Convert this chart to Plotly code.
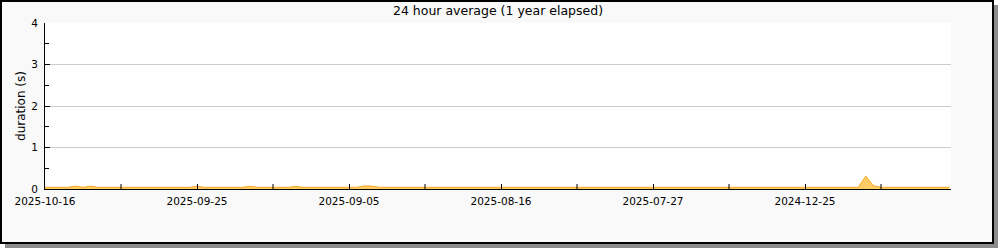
import plotly.graph_objects as go

# Data: daily 24h average durations (s), index 0 = most recent day
days = list(range(120))
base = 0.04
durations = [base] * 120
bumps = {4: 0.07, 6: 0.07, 20: 0.065, 27: 0.065, 33: 0.065, 42: 0.075, 43: 0.07,
         108: 0.31, 109: 0.08}
for d, v in bumps.items():
    durations[d] = v

tick_positions = [0, 20, 40, 60, 80, 100]
tick_labels = ["2025-10-16", "2025-09-25", "2025-09-05", "2025-08-16", "2025-07-27", "2024-12-25"]
minor_positions = list(range(10, 120, 20))

# pixel geometry helpers
L, R, T, B = 45, 951, 23, 189
W, H = 1000, 250
def px(x):
    return (x - L) / (R - L)
def py(y):
    return (B - y) / (B - T)

fig = go.Figure()
fig.add_trace(go.Scatter(
    x=days, y=durations, mode="lines", fill="tozeroy",
    line=dict(color="#f5a623", width=1), fillcolor="#ffcc66",
    hoverinfo="skip", showlegend=False,
))

shapes = [
    # shadow
    dict(type="rect", xref="paper", yref="paper", x0=px(5), x1=px(998), y0=py(248), y1=py(5),
         fillcolor="#8c8c8c", line=dict(width=0), layer="below"),
    # frame
    dict(type="rect", xref="paper", yref="paper", x0=px(1), x1=px(993), y0=py(243), y1=py(1),
         fillcolor="#f9f9f9", line=dict(color="black", width=2), layer="below"),
    # plot area
    dict(type="rect", xref="paper", yref="paper", x0=0, x1=1, y0=0, y1=1,
         fillcolor="white", line=dict(width=0), layer="below"),
]
# x minor ticks (unlabeled majors)
for m in minor_positions:
    shapes.append(dict(type="line", xref="x", yref="paper", x0=m, x1=m, y0=0, y1=5 / (B - T),
                       line=dict(color="black", width=1), layer="above"))

fig.update_layout(
    width=W, height=H,
    margin=dict(l=L, r=W - R, t=T, b=H - B),
    paper_bgcolor="white", plot_bgcolor="rgba(0,0,0,0)",
    font=dict(family="DejaVu Sans", size=10.5, color="black"),
    title=dict(text="24 hour average (1 year elapsed)", x=0.5, xref="paper",
               y=1 - 11 / H, yanchor="middle", font=dict(size=12.5)),
    shapes=shapes,
    xaxis=dict(range=[0, 906 / 7.6], tickmode="array", tickvals=tick_positions, ticktext=tick_labels,
               ticks="inside", ticklen=5, tickcolor="black", showline=True, linecolor="black",
               linewidth=1, showgrid=False, zeroline=False, fixedrange=True, ticklabelstandoff=2),
    yaxis=dict(range=[0, 4], tickvals=[0, 1, 2, 3, 4], ticks="inside", ticklen=5, tickcolor="black",
               showline=True, linecolor="black", linewidth=1, showgrid=True, gridcolor="#cccccc",
               zeroline=False,
               title=dict(text="duration (s)", standoff=3,
                          font=dict(family="DejaVu Sans", size=12, color="black")),
               minor=dict(tickvals=[0.5, 1.5, 2.5, 3.5], ticks="inside", ticklen=4,
                          tickcolor="black", showgrid=False),
               ticklabelstandoff=4),
)
fig.write_html("out.html")
